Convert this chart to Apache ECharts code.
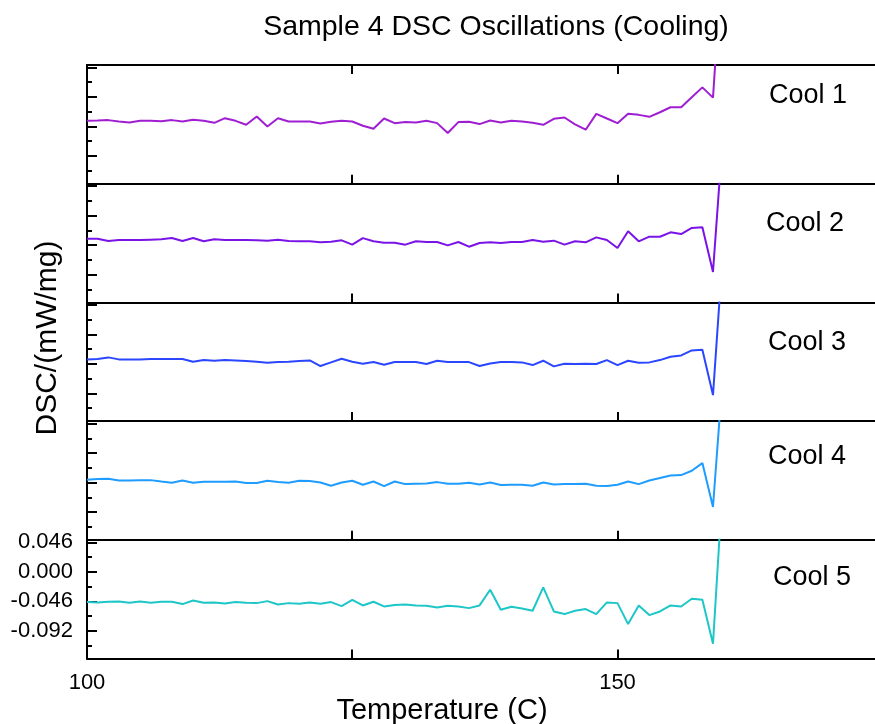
<!DOCTYPE html>
<html>
<head>
<meta charset="utf-8">
<script src="https://cdn.jsdelivr.net/npm/echarts@6/dist/echarts.min.js"></script>
<style>
html,body{margin:0;padding:0;background:#fff;}
#c{width:875px;height:724px;}
</style>
</head>
<body>
<div id="c"></div>
<script>
// Temperature (C)
const temps = [100,101,102,103,104,105,106,107,108,109,110,111,112,113,114,115,116,117,118,119,
  120,121,122,123,124,125,126,127,128,129,130,131,132,133,134,135,136,137,138,139,
  140,141,142,143,144,145,146,147,148,149,150,151,152,153,154,155,156,157,158,159,160];

const cool1 = [-0.0372,-0.0367,-0.0361,-0.0382,-0.0397,-0.0372,-0.0372,-0.0377,-0.0361,-0.0382,
  -0.0356,-0.0372,-0.0403,-0.0331,-0.0372,-0.0434,-0.0305,-0.0460,-0.0331,-0.0382,
  -0.0382,-0.0382,-0.0413,-0.0387,-0.0372,-0.0382,-0.0449,-0.0496,-0.0336,-0.0408,
  -0.0392,-0.0397,-0.0372,-0.0408,-0.0563,-0.0392,-0.0387,-0.0423,-0.0367,-0.0397,
  -0.0372,-0.0382,-0.0403,-0.0434,-0.0341,-0.0320,-0.0426,-0.0511,-0.0263,-0.0336,
  -0.0408,-0.0263,-0.0279,-0.0310,-0.0238,-0.0160,-0.0160,-0.0005,0.0150,-0.0010,0.249];

const cool2 = [-0.0359,-0.0359,-0.0395,-0.0380,-0.0380,-0.0380,-0.0374,-0.0369,-0.0348,-0.0395,
  -0.0348,-0.0400,-0.0369,-0.0380,-0.0380,-0.0380,-0.0385,-0.0390,-0.0374,-0.0395,
  -0.0400,-0.0400,-0.0416,-0.0406,-0.0385,-0.0452,-0.0350,-0.0400,-0.0421,-0.0421,
  -0.0452,-0.0400,-0.0411,-0.0411,-0.0463,-0.0411,-0.0484,-0.0426,-0.0416,-0.0426,
  -0.0411,-0.0411,-0.0380,-0.0406,-0.0390,-0.0452,-0.0400,-0.0416,-0.0338,-0.0380,
  -0.0504,-0.0244,-0.0400,-0.0328,-0.0328,-0.0260,-0.0286,-0.0192,-0.0182,-0.0879,0.142];

const cool3 = [-0.0390,-0.0385,-0.0359,-0.0390,-0.0390,-0.0390,-0.0385,-0.0385,-0.0385,-0.0385,
  -0.0427,-0.0401,-0.0411,-0.0401,-0.0406,-0.0416,-0.0427,-0.0443,-0.0432,-0.0427,
  -0.0416,-0.0406,-0.0494,-0.0437,-0.0380,-0.0427,-0.0458,-0.0432,-0.0474,-0.0432,
  -0.0432,-0.0432,-0.0463,-0.0411,-0.0432,-0.0432,-0.0432,-0.0494,-0.0453,-0.0432,
  -0.0432,-0.0437,-0.0479,-0.0411,-0.0499,-0.0458,-0.0463,-0.0458,-0.0463,-0.0401,
  -0.0479,-0.0411,-0.0443,-0.0437,-0.0401,-0.0349,-0.0328,-0.0250,-0.0240,-0.0947,0.146];

const cool4 = [-0.0417,-0.0406,-0.0401,-0.0427,-0.0427,-0.0422,-0.0422,-0.0443,-0.0463,-0.0427,
  -0.0463,-0.0448,-0.0448,-0.0448,-0.0443,-0.0468,-0.0468,-0.0432,-0.0453,-0.0463,
  -0.0432,-0.0437,-0.0458,-0.0510,-0.0458,-0.0432,-0.0495,-0.0443,-0.0515,-0.0443,
  -0.0484,-0.0479,-0.0474,-0.0453,-0.0479,-0.0479,-0.0463,-0.0489,-0.0458,-0.0499,
  -0.0494,-0.0494,-0.0510,-0.0458,-0.0489,-0.0482,-0.0482,-0.0479,-0.0510,-0.0515,
  -0.0494,-0.0443,-0.0484,-0.0427,-0.0390,-0.0349,-0.0343,-0.0276,-0.0156,-0.0842,0.139];

const cool5 = [-0.0473,-0.0478,-0.0468,-0.0463,-0.0484,-0.0463,-0.0484,-0.0468,-0.0468,-0.0504,
  -0.0447,-0.0484,-0.0478,-0.0494,-0.0473,-0.0484,-0.0489,-0.0458,-0.0510,-0.0489,
  -0.0499,-0.0478,-0.0499,-0.0473,-0.0536,-0.0437,-0.0525,-0.0468,-0.0541,-0.0520,
  -0.0510,-0.0525,-0.0530,-0.0556,-0.0530,-0.0541,-0.0567,-0.0525,-0.0281,-0.0593,
  -0.0546,-0.0572,-0.0608,-0.0244,-0.0619,-0.0660,-0.0608,-0.0582,-0.0660,-0.0478,
  -0.0489,-0.0816,-0.0525,-0.0676,-0.0619,-0.0525,-0.0541,-0.0421,-0.0437,-0.1123,0.158];

const seriesNames = ['Cool 1','Cool 2','Cool 3','Cool 4','Cool 5'];
const seriesData = [cool1, cool2, cool3, cool4, cool5];

const yMajorTicks = [0.046, 0.000, -0.046, -0.092];
const yMinorTicks = [0.023, -0.023, -0.069, -0.115];
const yMin = -0.1353, yMax = 0.0499;
const xMin = 100, xMax = 174.27;
const xTickValues = [100, 125, 150];
const xLabelValues = [100, 150];

const titleText = 'Sample 4 DSC Oscillations (Cooling)';
const xName = 'Temperature (C)';
const yName = 'DSC/(mW/mg)';

const colors = ['#a01ed2', '#7a14e6', '#2a46ff', '#1e9cff', '#1ec6c8'];
const FONT = 'Liberation Sans, Arial, sans-serif';

const chart = echarts.init(document.getElementById('c'), null, {renderer: 'canvas'});

const panelTop = 65, panelH = 118.7, gridLeft = 87, gridRight = 0;
const grids = [], xAxes = [], yAxes = [], series = [];
const labelPos = [[808, 96], [805, 223.5], [807, 343], [807, 457], [812, 578]];

for (let i = 0; i < 5; i++) {
  grids.push({left: gridLeft, right: gridRight, top: panelTop + i * panelH, height: panelH, containLabel: false});
  const last = i === 4;
  xAxes.push({
    gridIndex: i, type: 'value', min: xMin, max: xMax, position: 'bottom',
    axisLine: {show: true, onZero: false, lineStyle: {color: '#000', width: 2}},
    axisTick: {show: true, inside: true, length: 9, customValues: xTickValues, lineStyle: {color: '#000', width: 2}},
    axisLabel: {show: last, customValues: xLabelValues, margin: 13, color: '#000', fontSize: 22, fontFamily: FONT},
    splitLine: {show: false}
  });
  yAxes.push({
    gridIndex: i, type: 'value', min: yMin, max: yMax, position: 'left',
    axisLine: {show: true, onZero: false, lineStyle: {color: '#000', width: 2}},
    axisTick: {show: true, inside: true, length: 10, customValues: yMajorTicks, lineStyle: {color: '#000', width: 2}},
    axisLabel: {show: last, customValues: yMajorTicks, margin: 14, color: '#000', fontSize: 22, fontFamily: FONT,
      formatter: v => v.toFixed(3)},
    splitLine: {show: false}
  });
  yAxes.push({
    gridIndex: i, type: 'value', min: yMin, max: yMax, position: 'left',
    axisLine: {show: false, onZero: false},
    axisTick: {show: true, inside: true, length: 5, customValues: yMinorTicks, lineStyle: {color: '#000', width: 2}},
    axisLabel: {show: false},
    splitLine: {show: false}
  });
  series.push({
    name: seriesNames[i], type: 'line', xAxisIndex: i, yAxisIndex: i * 2,
    data: temps.map((t, k) => [t, seriesData[i][k]]),
    showSymbol: false, symbol: 'none', clip: true,
    lineStyle: {color: colors[i], width: 2}, itemStyle: {color: colors[i]}
  });
}
// top frame axis for the first panel
xAxes.push({
  gridIndex: 0, type: 'value', min: xMin, max: xMax, position: 'top',
  axisLine: {show: true, onZero: false, lineStyle: {color: '#000', width: 2}},
  axisTick: {show: true, inside: true, length: 9, customValues: xTickValues, lineStyle: {color: '#000', width: 2}},
  axisLabel: {show: false}, splitLine: {show: false}
});

const graphics = [
  {type: 'text', x: 496, y: 27, style: {text: titleText, fontSize: 28.5, fontFamily: FONT, fill: '#000', textAlign: 'center', textVerticalAlign: 'middle'}},
  {type: 'text', x: 442, y: 711, style: {text: xName, fontSize: 29, fontFamily: FONT, fill: '#000', textAlign: 'center', textVerticalAlign: 'middle'}},
  {type: 'text', x: 48, y: 338, rotation: Math.PI / 2, style: {text: yName, fontSize: 30, fontFamily: FONT, fill: '#000', textAlign: 'center', textVerticalAlign: 'middle'}}
];
for (let i = 0; i < 5; i++) {
  graphics.push({type: 'text', x: labelPos[i][0], y: labelPos[i][1],
    style: {text: seriesNames[i], fontSize: 27, fontFamily: FONT, fill: '#000', textAlign: 'center', textVerticalAlign: 'middle'}});
}

chart.setOption({
  backgroundColor: '#fff',
  animation: false,
  grid: grids,
  xAxis: xAxes,
  yAxis: yAxes,
  series: series,
  graphic: graphics
});
</script>
</body>
</html>
